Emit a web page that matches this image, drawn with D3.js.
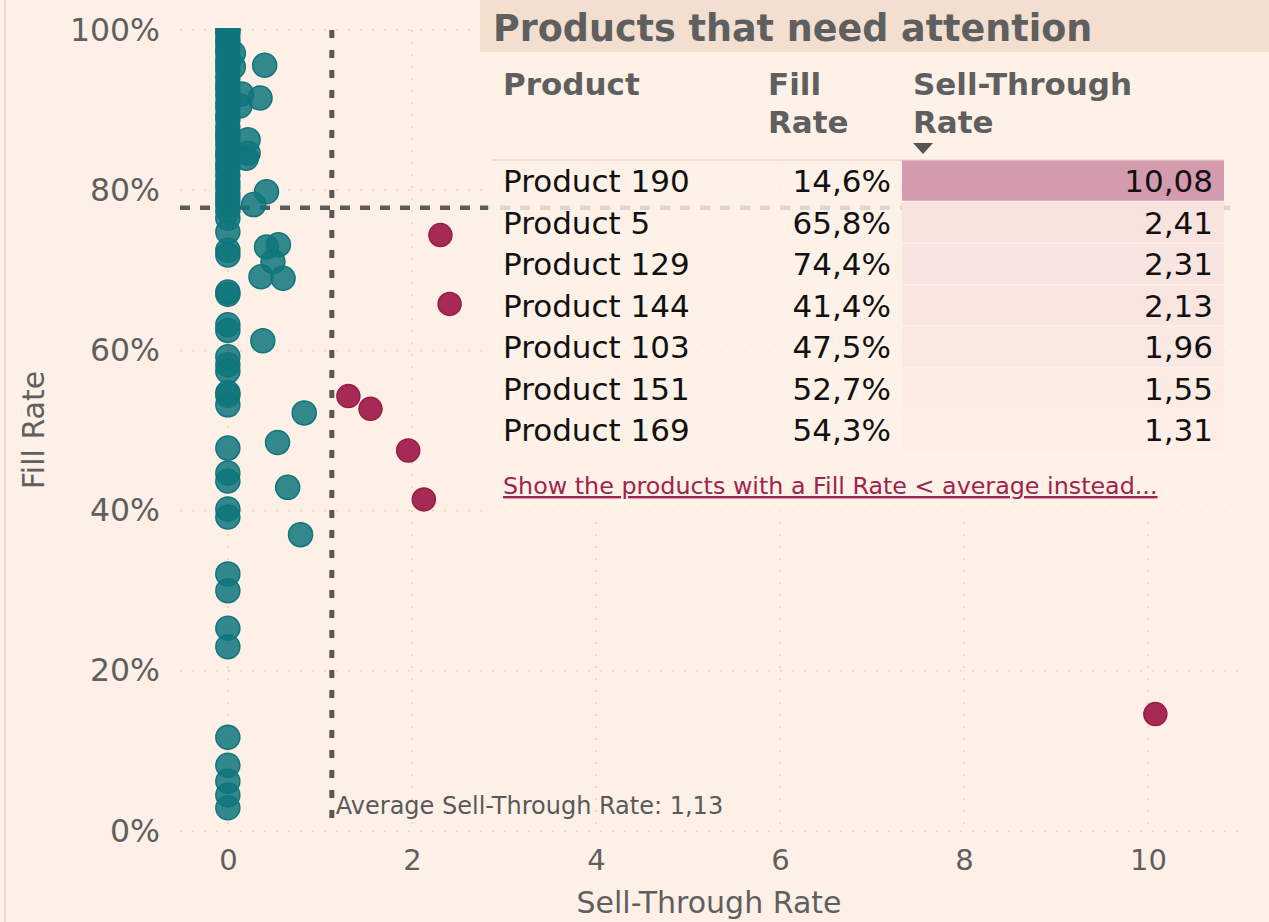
<!DOCTYPE html>
<html>
<head>
<meta charset="utf-8">
<script src="https://cdn.jsdelivr.net/npm/d3@7"></script>
<style>
  body { margin: 0; background: #fef0e6; }
  svg { display: block; font-family: "DejaVu Sans", sans-serif; }
</style>
</head>
<body>
<div id="chart"></div>
<script>
// Data
// ============================================================================
// products flagged in the table (red points)
const products = ["Product 190", "Product 5", "Product 129", "Product 144", "Product 103", "Product 151", "Product 169"];
const productFill = [0.146, 0.658, 0.744, 0.414, 0.475, 0.527, 0.543];
const productSell = [10.08, 2.41, 2.31, 2.13, 1.96, 1.55, 1.31];

// all other products (teal points)
const otherSell = [
    0, 0, 0, 0, 0, 0, 0, 0, 0, 0,
    0, 0, 0, 0, 0, 0, 0, 0, 0, 0,
    0, 0, 0, 0, 0, 0, 0, 0, 0, 0,
    0, 0, 0, 0, 0, 0, 0, 0, 0, 0,
    0, 0, 0, 0, 0, 0, 0, 0, 0, 0,
    0, 0, 0, 0, 0, 0, 0, 0, 0, 0,
    0.06, 0.06, 0.40, 0.35, 0.15, 0.13, 0.22, 0.22, 0.20, 0.42,
    0.28, 0.42, 0.55, 0.49, 0.36, 0.60, 0.38, 0.83, 0.54, 0.65,
    0.79
];
const otherFill = [
    1.000, 1.000, 0.996, 0.989, 0.984, 0.977, 0.971, 0.962, 0.956, 0.949,
    0.941, 0.933, 0.926, 0.918, 0.909, 0.903, 0.894, 0.888, 0.879, 0.871,
    0.865, 0.857, 0.848, 0.842, 0.833, 0.827, 0.819, 0.810, 0.804, 0.795,
    0.789, 0.782, 0.774, 0.765, 0.748, 0.725, 0.719, 0.673, 0.670, 0.632,
    0.625, 0.592, 0.582, 0.574, 0.547, 0.544, 0.532, 0.478, 0.447, 0.437,
    0.402, 0.392, 0.321, 0.300, 0.253, 0.230, 0.117, 0.082, 0.062, 0.045,
    0.971, 0.954, 0.956, 0.915, 0.920, 0.905, 0.863, 0.846, 0.840, 0.798,
    0.782, 0.729, 0.732, 0.711, 0.692, 0.690, 0.612, 0.522, 0.485, 0.429,
    0.370
];
const extraZero = [0.029];

const avgSell = 1.13,
    avgFill = 0.778;

const xTicks = [0, 2, 4, 6, 8, 10],
    yTicks = [0, 0.2, 0.4, 0.6, 0.8, 1];

// Define variables
// ============================================================================
const W = 1269, H = 922,
    bg = "#fef0e6",
    teal = "#0f767d",
    red = "#a3234f",
    grey = "#5f5f5f";

const locale = d3.formatLocale({decimal: ",", thousands: ".", grouping: [3], currency: ["", " €"]});
const fmtPct = locale.format(".1%"),
    fmtNum = locale.format(".2f");

let svg = d3.select("#chart")
    .append("svg")
        .attr("width", W)
        .attr("height", H);

svg.append("rect")
    .attr("width", W).attr("height", H)
    .attr("fill", bg);

// left panel border
svg.append("line")
    .attr("x1", 5).attr("x2", 5)
    .attr("y1", 0).attr("y2", H)
    .attr("stroke", "#f1d9c6")
    .attr("stroke-width", 2);

// Scales
// ============================================================================
let xScale = d3.scaleLinear()
    .domain([-0.52, 11.0])
    .range([180, 1240]);

let yScale = d3.scaleLinear()
    .domain([0, 1])
    .range([831, 30]);

// Grid
// ============================================================================
svg.append("g")
    .selectAll("line")
    .data(yTicks)
    .join("line")
        .attr("x1", 180).attr("x2", 1240)
        .attr("y1", d => yScale(d)).attr("y2", d => yScale(d))
        .attr("stroke", "#ecd8c6")
        .attr("stroke-width", 2)
        .attr("stroke-dasharray", "2,10");

svg.append("g")
    .selectAll("line")
    .data(xTicks)
    .join("line")
        .attr("x1", d => xScale(d)).attr("x2", d => xScale(d))
        .attr("y1", yScale(1)).attr("y2", yScale(0))
        .attr("stroke", "#ecd8c6")
        .attr("stroke-width", 2)
        .attr("stroke-dasharray", "2,10");

// Axes
// ============================================================================
let xAxis = svg.append("g")
    .attr("transform", "translate(0," + yScale(0) + ")")
    .call(d3.axisBottom(xScale).tickValues(xTicks).tickSize(0).tickPadding(18));

let yAxis = svg.append("g")
    .attr("transform", "translate(180,0)")
    .call(d3.axisLeft(yScale).tickValues(yTicks).tickSize(0).tickPadding(20).tickFormat(d3.format(".0%")));

[xAxis, yAxis].forEach(a => {
    a.select(".domain").remove();
    a.selectAll("text")
        .attr("fill", grey)
        .style("font-family", "DejaVu Sans, sans-serif")
        .style("font-size", "29px");
});
yAxis.selectAll("text").style("font-size", "31.5px");

svg.append("text")
    .attr("x", 709).attr("y", 913)
    .attr("text-anchor", "middle")
    .attr("fill", grey)
    .style("font-size", "30px")
    .text("Sell-Through Rate");

svg.append("text")
    .attr("transform", "translate(44,430) rotate(-90)")
    .attr("text-anchor", "middle")
    .attr("fill", grey)
    .style("font-size", "30px")
    .text("Fill Rate");

// Average lines
// ============================================================================
svg.append("line")
    .attr("x1", xScale(avgSell)).attr("x2", xScale(avgSell))
    .attr("y1", yScale(1)).attr("y2", yScale(0) - 3)
    .attr("stroke", "#5a5a5a")
    .attr("stroke-width", 5)
    .attr("stroke-dasharray", "8,12");

svg.append("line")
    .attr("x1", 180).attr("x2", 1240)
    .attr("y1", yScale(avgFill)).attr("y2", yScale(avgFill))
    .attr("stroke", "#5a5a5a")
    .attr("stroke-width", 4.5)
    .attr("stroke-dasharray", "10,10");

// Points
// ============================================================================
svg.append("clipPath")
    .attr("id", "plot-clip")
    .append("rect")
        .attr("x", 170).attr("y", yScale(1) - 2)
        .attr("width", 1080).attr("height", 830);

let pts = svg.append("g").attr("clip-path", "url(#plot-clip)");

const others = otherSell.map((s, i) => ({s: s, f: otherFill[i]}))
    .concat(extraZero.map(f => ({s: 0, f: f})));

pts.selectAll(".other")
    .data(others)
    .join("circle")
        .attr("class", "other")
        .attr("cx", d => xScale(d.s))
        .attr("cy", d => yScale(d.f))
        .attr("r", 12)
        .attr("fill", teal)
        .attr("fill-opacity", 0.85)
        .attr("stroke", teal)
        .attr("stroke-width", 1.5);

const flagged = products.map((p, i) => ({p: p, s: productSell[i], f: productFill[i]}));

pts.selectAll(".flag")
    .data(flagged)
    .join("circle")
        .attr("class", "flag")
        .attr("cx", d => xScale(d.s))
        .attr("cy", d => yScale(d.f))
        .attr("r", 11.5)
        .attr("fill", red)
        .attr("fill-opacity", 0.97)
        .attr("stroke", "#961d47")
        .attr("stroke-width", 1.5);

svg.append("text")
    .attr("x", xScale(avgSell) + 4).attr("y", 814)
    .attr("fill", "#595959")
    .style("font-size", "24px")
    .text("Average Sell-Through Rate: " + locale.format(".2f")(avgSell));

// Table
// ============================================================================
svg.append("rect")
    .attr("x", 488).attr("y", 52)
    .attr("width", 752).attr("height", 462)
    .attr("fill", bg)
    .attr("fill-opacity", 0.82);

svg.append("rect")
    .attr("x", 480).attr("y", 0)
    .attr("width", W - 480).attr("height", 52)
    .attr("fill", "#f2dfcf");

svg.append("text")
    .attr("x", 493).attr("y", 41)
    .attr("fill", grey)
    .style("font-size", "36.5px")
    .style("font-weight", "bold")
    .text("Products that need attention");

const headers = [
    {lines: ["Product"], x: 503},
    {lines: ["Fill", "Rate"], x: 768},
    {lines: ["Sell-Through", "Rate"], x: 913}
];

headers.forEach(h => {
    h.lines.forEach((l, i) => {
        svg.append("text")
            .attr("x", h.x).attr("y", 95 + i * 38)
            .attr("fill", grey)
            .style("font-size", "31px")
            .style("font-weight", "bold")
            .text(l);
    });
});

// sort arrow
svg.append("path")
    .attr("d", "M913,143 L933,143 L923,154 Z")
    .attr("fill", "#555");

let rowScale = d3.scaleBand()
    .domain(products)
    .range([160, 451]);

let cellColor = d3.scaleLinear()
    .domain(d3.extent(productSell))
    .range(["#fdeee6", "#d49aae"]);

svg.append("line")
    .attr("x1", 492).attr("x2", 1224)
    .attr("y1", 160).attr("y2", 160)
    .attr("stroke", "#f1dccd")
    .attr("stroke-width", 2);

let rows = svg.append("g")
    .selectAll("g")
    .data(flagged)
    .join("g")
        .attr("transform", d => "translate(0," + rowScale(d.p) + ")");

rows.append("rect")
    .attr("x", 902).attr("y", 0.5)
    .attr("width", 322).attr("height", rowScale.bandwidth() - 1)
    .attr("fill", d => cellColor(d.s));

rows.append("line")
    .attr("x1", 492).attr("x2", 1224)
    .attr("y1", rowScale.bandwidth()).attr("y2", rowScale.bandwidth())
    .attr("stroke", "#fcf1ea")
    .attr("stroke-width", 1.5);

rows.append("text")
    .attr("x", 503).attr("y", 32)
    .attr("fill", "#111")
    .style("font-size", "31px")
    .text(d => d.p);

rows.append("text")
    .attr("x", 891).attr("y", 32)
    .attr("text-anchor", "end")
    .attr("fill", "#111")
    .style("font-size", "31px")
    .text(d => fmtPct(d.f));

rows.append("text")
    .attr("x", 1213).attr("y", 32)
    .attr("text-anchor", "end")
    .attr("fill", "#111")
    .style("font-size", "31px")
    .text(d => fmtNum(d.s));

svg.append("text")
    .attr("x", 503).attr("y", 494)
    .attr("fill", "#a0234e")
    .style("font-size", "23.8px")
    .style("text-decoration", "underline")
    .text("Show the products with a Fill Rate < average instead...");
</script>
</body>
</html>
